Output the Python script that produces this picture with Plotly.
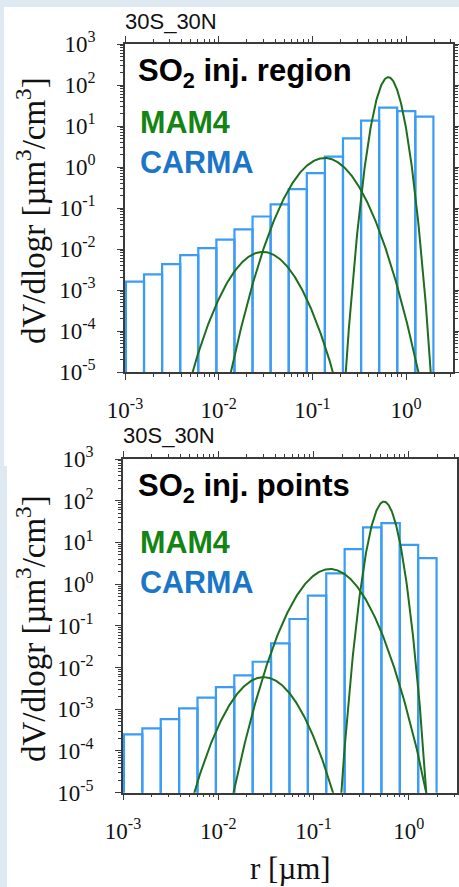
import numpy as np
import plotly.graph_objects as go

W, H = 459, 887

# ---------------- data ----------------
# CARMA bin edges (radius, um)
bin_edges = [0.0010233, 0.0015959, 0.0024889, 0.0038815, 0.0060534, 0.0094406,
             0.014723, 0.022961, 0.035810, 0.055847, 0.087096, 0.13583,
             0.21184, 0.33037, 0.51523, 0.80353, 1.2531, 1.9543]
# CARMA dV/dlogr per bin
carma_region = [1.6e-3, 2.4e-3, 4.3e-3, 7.1e-3, 1.05e-2, 1.7e-2, 3.0e-2, 6.2e-2,
                0.123, 0.29, 0.71, 1.8, 5.0, 13.5, 28, 23, 17]
carma_points = [2.5e-4, 3.5e-4, 5.8e-4, 1.05e-3, 1.9e-3, 3.4e-3, 6.5e-3, 1.38e-2,
                3.8e-2, 0.146, 0.53, 1.82, 6.9, 23, 29, 8.7, 4.2]

# MAM4 modes (Aitken, accumulation, coarse)
mode_sigma_g = [1.6, 1.6, 1.2]
mam4_region_rpeak = [0.0295, 0.135, 0.645]
mam4_region_peak = [8.5e-3, 1.66, 155]
mam4_points_rpeak = [0.0299, 0.149, 0.548]
mam4_points_peak = [5.9e-3, 2.3, 95]

panel_titles = ["SO<sub>2</sub> inj. region", "SO<sub>2</sub> inj. points"]
region_label = "30S_30N"

x_major = [1e-3, 1e-2, 1e-1, 1e0]
x_major_text = ["10<sup>-3</sup>", "10<sup>-2</sup>", "10<sup>-1</sup>", "10<sup>0</sup>"]
y_major = [1e-5, 1e-4, 1e-3, 1e-2, 1e-1, 1e0, 1e1, 1e2, 1e3]
y_major_text = ["10<sup>-5</sup>", "10<sup>-4</sup>", "10<sup>-3</sup>", "10<sup>-2</sup>",
                "10<sup>-1</sup>", "10<sup>0</sup>", "10<sup>1</sup>", "10<sup>2</sup>",
                "10<sup>3</sup>"]

# ---------------- styles ----------------
SERIF = "Liberation Serif"
SANS = "Liberation Sans"
BAR_COLOR = "#3b9cf6"
CURVE_COLOR = "#1d6f1d"
MAM_TXT = "#148414"
CARMA_TXT = "#1c76c8"
FRAME = "#3a3a3a"
BG = "#dfe9f1"


def px_x(p):
    return p / W


def px_y(p):
    return 1 - p / H


def bar_path(edges, vals, base=1e-7):
    xs, ys = [], []
    for i, v in enumerate(vals):
        e0, e1 = edges[i], edges[i + 1]
        xs += [e0, e0, e1, e1, None]
        ys += [base, v, v, base, None]
    return xs, ys


r_grid = np.logspace(-3, 0.5, 800)


def mode_curve(rp, peak, sg):
    s = np.log10(sg)
    y = peak * np.exp(-((np.log10(r_grid) - np.log10(rp)) ** 2) / (2 * s * s))
    m = y > 1e-7
    return r_grid[m], y[m]


def minor_vals(lo, hi):
    out = []
    for d in range(lo, hi):
        for k in range(2, 10):
            out.append(k * 10.0 ** d)
    return out


fig = go.Figure()

panels = [
    dict(xa="x", ya="y", carma=carma_region, rp=mam4_region_rpeak, pk=mam4_region_peak),
    dict(xa="x2", ya="y2", carma=carma_points, rp=mam4_points_rpeak, pk=mam4_points_peak),
]

for p in panels:
    bx, by = bar_path(bin_edges, p["carma"])
    fig.add_trace(go.Scatter(x=bx, y=by, mode="lines", xaxis=p["xa"], yaxis=p["ya"],
                             line=dict(color=BAR_COLOR, width=2.2), showlegend=False,
                             hoverinfo="skip"))
    for rp, pk, sg in zip(p["rp"], p["pk"], mode_sigma_g):
        cx, cy = mode_curve(rp, pk, sg)
        fig.add_trace(go.Scatter(x=cx, y=cy, mode="lines", xaxis=p["xa"], yaxis=p["ya"],
                                 line=dict(color=CURVE_COLOR, width=2), showlegend=False,
                                 hoverinfo="skip"))

# domains (pixels)
top_dom_x = [px_x(125), px_x(453)]
top_dom_y = [px_y(372), px_y(44)]
bot_dom_x = [px_x(123), px_x(456.5)]
bot_dom_y = [px_y(792.7), px_y(459)]

common_x = dict(type="log", range=[-3, 0.5], tickmode="array", tickvals=x_major,
                ticktext=x_major_text, ticks="outside", ticklen=6, tickwidth=1.3,
                tickcolor=FRAME, showline=True, linecolor=FRAME, linewidth=1.5,
                mirror="ticks", showgrid=False, zeroline=False, automargin=False,
                tickfont=dict(family=SERIF, size=23, color="#111"),
                ticklabelstandoff=11,
                minor=dict(tickmode="array", tickvals=minor_vals(-3, 1), ticks="outside",
                           ticklen=3, tickcolor=FRAME, tickwidth=1, showgrid=False))
common_y = dict(type="log", range=[-5, 3], tickmode="array", tickvals=y_major,
                ticktext=y_major_text, ticks="outside", ticklen=6, tickwidth=1.3,
                tickcolor=FRAME, showline=True, linecolor=FRAME, linewidth=1.5,
                mirror="ticks", showgrid=False, zeroline=False, automargin=False,
                tickfont=dict(family=SERIF, size=23, color="#111"),
                ticklabelstandoff=17,
                minor=dict(tickmode="array", tickvals=minor_vals(-5, 3), ticks="outside",
                           ticklen=3, tickcolor=FRAME, tickwidth=1, showgrid=False))

fig.update_layout(
    width=W, height=H, margin=dict(l=0, r=0, t=0, b=0, pad=0, autoexpand=False),
    paper_bgcolor=BG, plot_bgcolor="white",
    xaxis=dict(domain=top_dom_x, anchor="y", **common_x),
    yaxis=dict(domain=top_dom_y, anchor="x", **common_y),
    xaxis2=dict(domain=bot_dom_x, anchor="y2", **common_x),
    yaxis2=dict(domain=bot_dom_y, anchor="x2", **common_y),
)

# white panel backgrounds
fig.add_shape(type="rect", xref="paper", yref="paper", x0=px_x(4), x1=1.01,
              y0=px_y(466), y1=px_y(7), fillcolor="white", line=dict(width=0), layer="below")
fig.add_shape(type="rect", xref="paper", yref="paper", x0=px_x(7), x1=1.01,
              y0=-0.01, y1=px_y(466), fillcolor="white", line=dict(width=0), layer="below")

ann = []
# region labels
ann.append(dict(text=region_label, x=px_x(123), y=px_y(22), xanchor="left", yanchor="middle",
                font=dict(family=SANS, size=22, color="#111")))
ann.append(dict(text=region_label, x=px_x(121), y=px_y(436), xanchor="left", yanchor="middle",
                font=dict(family=SANS, size=22, color="#111")))
# panel texts
for title, ty, my, cy in [(panel_titles[0], 73, 122, 162), (panel_titles[1], 488, 542, 582)]:
    ann.append(dict(text="<b>" + title + "</b>", x=px_x(136), y=px_y(ty), xanchor="left",
                    yanchor="middle", font=dict(family=SANS, size=31, color="black")))
    ann.append(dict(text="<b>MAM4</b>", x=px_x(138), y=px_y(my), xanchor="left",
                    yanchor="middle", font=dict(family=SANS, size=30.5, color=MAM_TXT)))
    ann.append(dict(text="<b>CARMA</b>", x=px_x(138), y=px_y(cy), xanchor="left",
                    yanchor="middle", font=dict(family=SANS, size=30.5, color=CARMA_TXT)))
# y titles
ytitle = "dV/dlogr [\u00b5m<sup>3</sup>/cm<sup>3</sup>]"
for cyp in [211, 629]:
    ann.append(dict(text=ytitle, x=px_x(31), y=px_y(cyp), xanchor="center", yanchor="middle",
                    textangle=-90, font=dict(family=SERIF, size=33, color="#111")))
# x title
ann.append(dict(text="r [\u00b5m]", x=px_x(290), y=px_y(868), xanchor="center",
                yanchor="middle", font=dict(family=SERIF, size=31, color="#111")))

for a in ann:
    a.update(xref="paper", yref="paper", showarrow=False)
    fig.add_annotation(**a)

fig.write_html("out.html")
